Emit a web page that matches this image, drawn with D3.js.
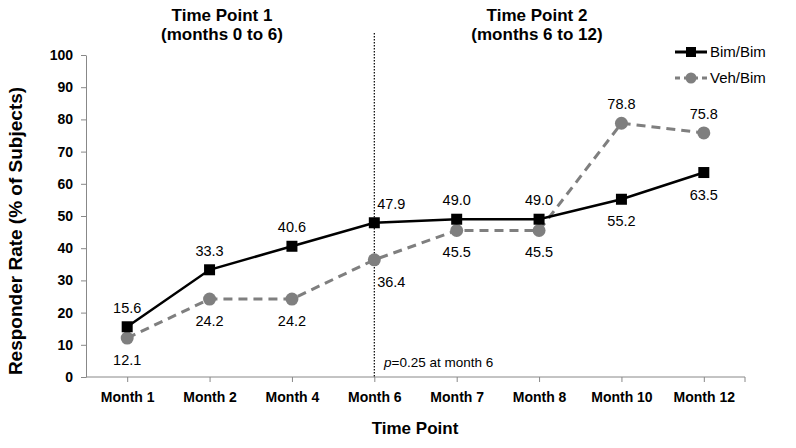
<!DOCTYPE html>
<html>
<head>
<meta charset="utf-8">
<script src="https://cdn.jsdelivr.net/npm/d3@7"></script>
<style>
  body { margin: 0; background: #fff; }
  text { font-family: "Liberation Sans", Arial, sans-serif; }
</style>
</head>
<body>
<svg id="chart" width="796" height="448"></svg>
<script>
var months = ['Month 1', 'Month 2', 'Month 4', 'Month 6', 'Month 7', 'Month 8', 'Month 10', 'Month 12'];
var bimBim = [15.6, 33.3, 40.6, 47.9, 49.0, 49.0, 55.2, 63.5];
var vehBim = [12.1, 24.2, 24.2, 36.4, 45.5, 45.5, 78.8, 75.8];
// label side: 1 above, -1 below
var bimSide = [1, 1, 1, 1, 1, 1, -1, -1];
var vehSide = [-1, -1, -1, -1, -1, -1, 1, 1];
var yTicks = [0, 10, 20, 30, 40, 50, 60, 70, 80, 90, 100];

var svg = d3.select('#chart'),
    pLeft = 86, pRight = 745, pTop = 55, pBottom = 377;

var x = d3.scalePoint().domain(months).range([pLeft, pRight]).padding(0.5);
var y = d3.scaleLinear().domain([0, 100]).range([pBottom, pTop]);

// axes
var yAxis = svg.append('g')
  .attr('transform', 'translate(' + pLeft + ',0)')
  .call(d3.axisLeft(y).tickValues(yTicks).tickSize(5).tickSizeOuter(0).tickPadding(8));
yAxis.select('.domain').attr('stroke', '#888');
yAxis.selectAll('.tick line').attr('stroke', '#888');
yAxis.selectAll('text').attr('font-size', 14).attr('font-weight', 'bold').attr('fill', '#000');

var xAxis = svg.append('g')
  .attr('transform', 'translate(0,' + pBottom + ')')
  .call(d3.axisBottom(x).tickSize(5).tickSizeOuter(0).tickPadding(10));
xAxis.select('.domain').attr('d', 'M' + pLeft + ',0H' + pRight + 'V5').attr('stroke', '#888');
xAxis.selectAll('.tick line').attr('stroke', '#888');
xAxis.selectAll('text').attr('font-size', 14).attr('font-weight', 'bold').attr('fill', '#000');

// dotted divider at month 6
svg.append('line')
  .attr('x1', x('Month 6')).attr('x2', x('Month 6'))
  .attr('y1', 33).attr('y2', pBottom)
  .attr('stroke', '#000').attr('stroke-width', 1.2)
  .attr('stroke-dasharray', '1.5,1.5');

// period headings
[['Time Point 1', '(months 0 to 6)', 222], ['Time Point 2', '(months 6 to 12)', 537]].forEach(function(h) {
  var t = svg.append('text').attr('x', h[2]).attr('y', 21)
    .attr('text-anchor', 'middle').attr('font-size', 17).attr('font-weight', 'bold');
  t.append('tspan').attr('x', h[2]).text(h[0]);
  t.append('tspan').attr('x', h[2]).attr('dy', 18.5).text(h[1]);
});

// axis titles
svg.append('text')
  .attr('transform', 'translate(22,231) rotate(-90)')
  .attr('text-anchor', 'middle').attr('font-size', 19).attr('font-weight', 'bold')
  .text('Responder Rate (% of Subjects)');
svg.append('text').attr('x', 415).attr('y', 434)
  .attr('text-anchor', 'middle').attr('font-size', 17).attr('font-weight', 'bold')
  .text('Time Point');

var line = d3.line().x(function(d, i) { return x(months[i]); }).y(function(d) { return y(d); });

// Veh/Bim series
svg.append('path').datum(vehBim).attr('d', line)
  .attr('fill', 'none').attr('stroke', '#7f7f7f').attr('stroke-width', 3)
  .attr('stroke-dasharray', '9,6');
svg.selectAll('.veh').data(vehBim).enter().append('circle')
  .attr('cx', function(d, i) { return x(months[i]); })
  .attr('cy', function(d) { return y(d); })
  .attr('r', 6.5).attr('fill', '#7f7f7f');

// Bim/Bim series
svg.append('path').datum(bimBim).attr('d', line)
  .attr('fill', 'none').attr('stroke', '#000').attr('stroke-width', 2.5);
svg.selectAll('.bim').data(bimBim).enter().append('rect')
  .attr('x', function(d, i) { return x(months[i]) - 5.5; })
  .attr('y', function(d) { return y(d) - 5.5; })
  .attr('width', 11).attr('height', 11).attr('fill', '#000');

// data labels
function labels(vals, sides) {
  svg.selectAll(null).data(vals).enter().append('text')
    .attr('x', function(d, i) { return x(months[i]) + (i == 3 ? 17 : 0); })
    .attr('y', function(d, i) { return y(d) + (sides[i] > 0 ? -14 : 27); })
    .attr('text-anchor', 'middle')
    .attr('font-size', 14.5).attr('fill', '#000')
    .text(function(d) { return d.toFixed(1); });
}
labels(bimBim, bimSide);
labels(vehBim, vehSide);

// p value note
var p = svg.append('text').attr('x', 384).attr('y', 367).attr('font-size', 13.5);
p.append('tspan').attr('font-style', 'italic').text('p');
p.append('tspan').text('=0.25 at month 6');

// legend
var legend = [['Bim/Bim', '#000', null, 'rect'], ['Veh/Bim', '#7f7f7f', '5,4', 'circle']];
legend.forEach(function(l, i) {
  var ly = 52 + i * 26, g = svg.append('g');
  g.append('line').attr('x1', 675).attr('x2', 707).attr('y1', ly).attr('y2', ly)
    .attr('stroke', l[1]).attr('stroke-width', 3).attr('stroke-dasharray', l[2]);
  if (l[3] == 'rect')
    g.append('rect').attr('x', 686).attr('y', ly - 5).attr('width', 10).attr('height', 10).attr('fill', l[1]);
  else
    g.append('circle').attr('cx', 691).attr('cy', ly).attr('r', 5.5).attr('fill', l[1]);
  g.append('text').attr('x', 710).attr('y', ly + 5).attr('font-size', 15).text(l[0]);
});
</script>
</body>
</html>
